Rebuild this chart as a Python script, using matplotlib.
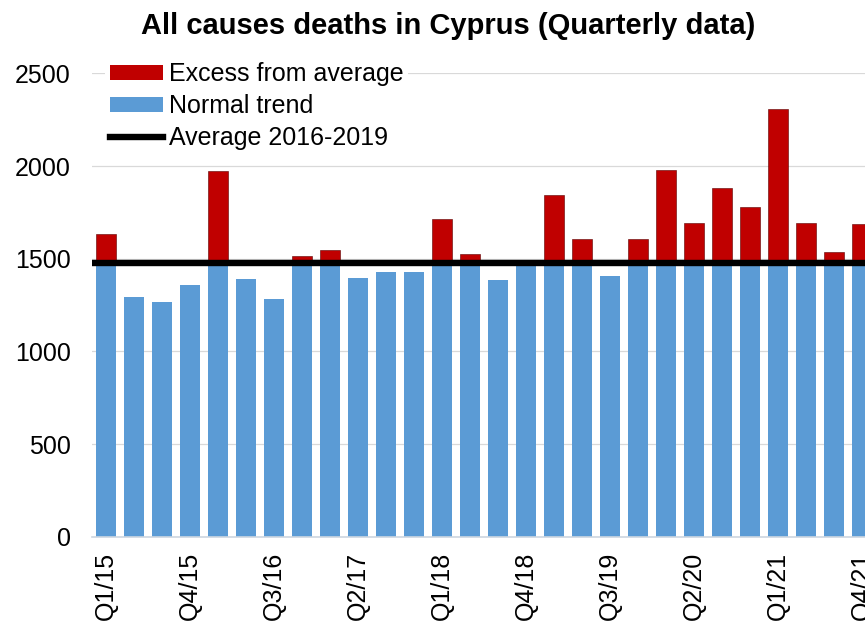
import matplotlib
matplotlib.use('Agg')
import matplotlib.pyplot as plt
from matplotlib.patches import Patch
from matplotlib.lines import Line2D
import numpy as np

# Quarterly all cause deaths in Cyprus
quarters = ['Q1/15', 'Q2/15', 'Q3/15', 'Q4/15',
            'Q1/16', 'Q2/16', 'Q3/16', 'Q4/16',
            'Q1/17', 'Q2/17', 'Q3/17', 'Q4/17',
            'Q1/18', 'Q2/18', 'Q3/18', 'Q4/18',
            'Q1/19', 'Q2/19', 'Q3/19', 'Q4/19',
            'Q1/20', 'Q2/20', 'Q3/20', 'Q4/20',
            'Q1/21', 'Q2/21', 'Q3/21', 'Q4/21']
deaths = [1631, 1292, 1264, 1356,
          1975, 1389, 1280, 1513,
          1549, 1396, 1430, 1430,
          1713, 1527, 1386, 1475,
          1846, 1604, 1404, 1604,
          1980, 1695, 1882, 1778,
          2306, 1695, 1536, 1688]
average_2016_2019 = 1477

yticks = [0, 500, 1000, 1500, 2000, 2500]

plt.rcParams['font.family'] = ['Liberation Sans', 'DejaVu Sans']

deaths = np.array(deaths)
normal = np.minimum(deaths, average_2016_2019)
excess = np.maximum(deaths - average_2016_2019, 0)
x = np.arange(len(quarters))

fig = plt.figure(figsize=(8.65, 6.25), dpi=100)
# axes run a little past the right edge, the original is cropped there
ax = fig.add_axes([0.1064, 0.1413, 0.9064, 0.7413])

ax.bar(x, normal, width=0.71, color='#5b9bd5', zorder=2)
ax.bar(x, excess, width=0.71, bottom=average_2016_2019, color='#c00000',
       edgecolor='#5a0000', linewidth=0.4, zorder=2)
ax.axhline(average_2016_2019, color='black', linewidth=4.6, zorder=3)

ax.set_xlim(-0.5, len(quarters) - 0.5)
ax.set_ylim(0, 2500)
ax.set_yticks(yticks)
ax.set_yticklabels([str(v) for v in yticks])
ax.set_xticks(x[::3])
ax.set_xticklabels(quarters[::3], rotation=90)
ax.tick_params(axis='y', length=0, pad=15.5, labelsize=18)
ax.tick_params(axis='x', length=0, pad=11, labelsize=18)

ax.grid(axis='y', color='#d9d9d9', linewidth=0.9, zorder=0)
ax.set_axisbelow(True)
for side in ['top', 'right', 'left']:
    ax.spines[side].set_visible(False)
ax.spines['bottom'].set_color('#cdd6e0')
ax.spines['bottom'].set_linewidth(1.2)

fig.text(0.518, 0.958, 'All causes deaths in Cyprus (Quarterly data)',
         ha='center', va='center', fontsize=21, fontweight='bold')

handles = [Patch(facecolor='#c00000', label='Excess from average'),
           Patch(facecolor='#5b9bd5', label='Normal trend'),
           Line2D([0], [0], color='black', linewidth=4.6, label='Average 2016-2019')]
leg = ax.legend(handles=handles, loc='upper left',
                bbox_to_anchor=(105 / 865, 1 - 57 / 625), bbox_transform=fig.transFigure,
                fontsize=18, frameon=True, facecolor='white', edgecolor='none',
                framealpha=1, fancybox=False, borderpad=0.2, borderaxespad=0,
                handlelength=2.1, handleheight=0.55, handletextpad=0.25,
                labelspacing=0.32)
leg.set_zorder(5)

fig.savefig('out.png', dpi=100)
